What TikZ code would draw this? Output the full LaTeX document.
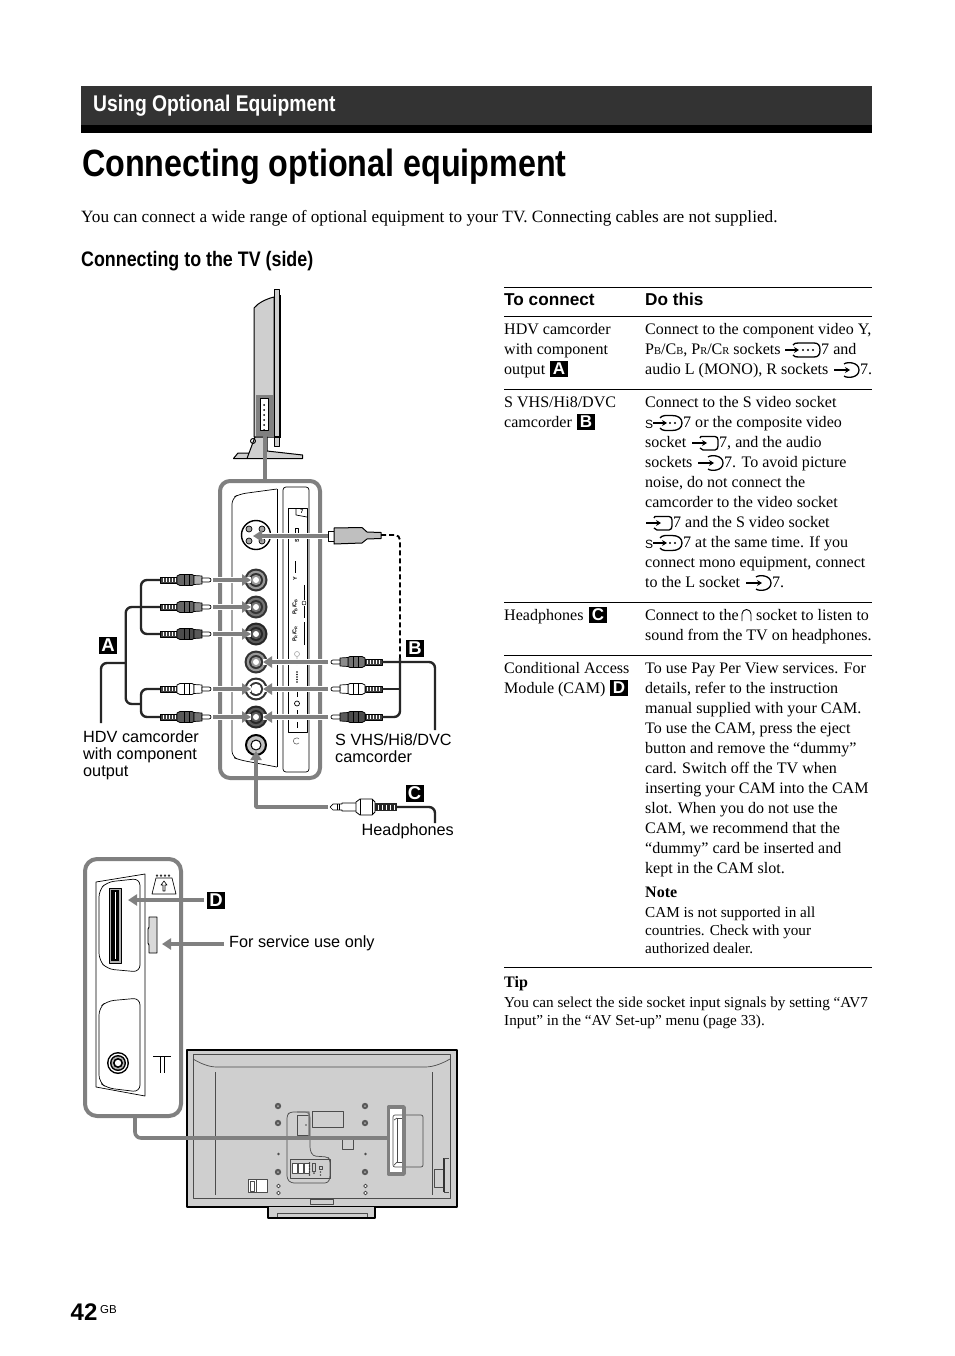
\documentclass[tikz,border=0pt]{standalone}
\usepackage{fontspec}
\usetikzlibrary{arrows.meta}
\setmainfont{Liberation Serif}
\newfontfamily\ar{Liberation Sans}
\newfontfamily\cond[FakeStretch=0.85]{Liberation Sans}
\newcounter{nn}
\definecolor{pg}{HTML}{808080}
\definecolor{tvg}{HTML}{CFCFCF}
\definecolor{hdr}{HTML}{333333}
\tikzset{
  rm/.style={anchor=base west,inner sep=0pt,font=\fontsize{16.05}{18}\selectfont\rmfamily},
  rmb/.style={rm,font=\fontsize{16}{18}\selectfont\rmfamily\bfseries},
  sm/.style={anchor=base west,inner sep=0pt,font=\fontsize{15.2}{16}\selectfont\rmfamily},
  intro/.style={anchor=base west,inner sep=0pt,font=\fontsize{17.25}{18}\selectfont\rmfamily},
  sa/.style={anchor=base west,inner sep=0pt,font=\fontsize{16.25}{18}\selectfont\ar},
  sab/.style={anchor=base west,inner sep=0pt,font=\fontsize{17.2}{18}\selectfont\ar\bfseries},
  badge/.style={fill=black,text=white,inner sep=0pt,minimum width=18pt,minimum height=17pt,font=\fontsize{18.5}{18}\selectfont\ar\bfseries},
  tbadge/.style={fill=black,text=white,inner sep=0pt,minimum width=18pt,minimum height=16pt,font=\fontsize{17}{16}\selectfont\ar\bfseries},
  tiny/.style={inner sep=0pt,rotate=90,font=\fontsize{5.5}{6}\selectfont\ar\bfseries},
  gar/.style={draw=pg,line width=3.4pt,-{Triangle[length=9pt,width=11pt]},preaction={draw=white,line width=5.5pt,-}},
  gline/.style={draw=pg,line width=3.6pt},
  cable/.style={draw=black!85,line width=2.4pt,rounded corners=6pt},
  thin/.style={draw=black,line width=.7pt},
  tvl/.style={draw=black!70,line width=.7pt},
  pics/plug/.style 2 args={code={
    \fill[black!75] (0,-3) rectangle (17,3);
    \foreach \k in {3,6,9,12,15}{\draw[white,line width=.9pt] (\k,-2.2) -- (\k,2.2);}
    \draw[black,line width=.7pt] (0,-3) rectangle (17,3);
    \draw[black,line width=.7pt,fill=#1] (17,-4) -- (20,-5.5) -- (32,-5.5) -- (34,-4.5) -- (34,4.5) -- (32,5.5) -- (20,5.5) -- (17,4) -- cycle;
    \draw[black,line width=.7pt] (24,-5.5) -- (24,5.5) (29,-5.5) -- (29,5.5);
    \draw[black,line width=.7pt,fill=#2] (34,-4.5) -- (42,-4) -- (42,4) -- (34,4.5) -- cycle;
    \draw[black,line width=.7pt,fill=white] (42,-2) -- (49,-2) arc (-90:90:2) -- (42,2) -- cycle;
  }},
  pics/rca/.style 2 args={code={
    \fill[#1] (0,0) circle (11.5);
    \fill[#2] (0,0) circle (9.3);
    \fill[#1] (0,0) circle (7);
    \fill[#2] (0,0) circle (5.2);
    \fill[white] (0,0) circle (3);
  }},
  pics/iaudio/.style={code={
    \draw[black,line width=1.1pt,-{Stealth[length=5pt,width=6pt]}] (0,0) -- (16,0);
    \draw[black,line width=1.3pt] (10,-6) .. controls (13,-8.5) and (25,-8) .. (25,0) .. controls (25,8) and (13,8.5) .. (10,6);
  }},
  pics/icomp/.style={code={
    \draw[black,line width=1.1pt,-{Stealth[length=5pt,width=6pt]}] (0,0) -- (14,0);
    \draw[black,line width=1.3pt] (8,-5) .. controls (9,-7) and (11,-7) .. (14,-7) -- (29,-7) .. controls (33,-7) and (35,-5) .. (35,0) .. controls (35,5) and (33,7) .. (29,7) -- (14,7) .. controls (11,7) and (9,7) .. (8,5);
    \foreach \k in {18,23,28}{\fill[black] (\k,0) circle (1.2);}
  }},
  pics/ivideo/.style={code={
    \draw[black,line width=1.1pt,-{Stealth[length=5pt,width=6pt]}] (0,0) -- (15,0);
    \draw[black,line width=1.3pt] (8,-5) -- (9,-6.5) -- (23,-6.5) .. controls (25,-6.5) and (26,-5) .. (26,-3) -- (26,3) .. controls (26,5) and (25,7) .. (23,7) -- (11,7) -- (8,5);
  }},
  pics/isv/.style={code={
    \node[inner sep=0pt,font=\fontsize{12}{12}\selectfont\ar] at (4,1) {S};
    \draw[black,line width=1.1pt,-{Stealth[length=5pt,width=6pt]}] (8,0) -- (22,0);
    \draw[black,line width=1.3pt] (15,-5) .. controls (17,-8) and (21,-7.5) .. (27,-7.5) .. controls (33,-7.5) and (37,-5) .. (37,0) .. controls (37,5) and (33,7.5) .. (27,7.5) .. controls (21,7.5) and (17,8) .. (15,5);
    \foreach \k in {25,30}{\fill[black] (\k,0) circle (1.2);}
  }},
  pics/screw/.style={code={
    \fill[black!65] (0,0) circle (3.2);
    \fill[black!30] (0,0) circle (1);
  }},
  pics/dmd/.style={code={
    \draw[black!75,line width=.7pt,fill=white] (0,-1.8) -- (1.8,0) -- (0,1.8) -- (-1.8,0) -- cycle;
  }}
}
\newcommand{\tx}[4][rm]{\stepcounter{nn}\node[#1] (t\thenn) at (#2,#3) {#4};}
\newcommand{\lns}[5][rm]{\foreach \t [count=\i from 0] in {#5} {\pgfmathsetmacro\yy{#3+#4*\i}\stepcounter{nn}\node[#1] (t\thenn) at (#2,\yy) {\t};}}
\newcommand{\smc}[1]{{\fontsize{10.5}{11}\selectfont #1}}
\begin{document}
\begin{tikzpicture}[x=1pt,y=-1pt,line join=round]
\useasboundingbox (0,0) rectangle (954,1356);
\fill[white] (0,0) rectangle (954,1356);
% ---------- header
\fill[hdr] (81,86) rectangle (872,125);
\fill[black] (81,125) rectangle (872,133);
\node[anchor=base west,inner sep=0pt,text=white,font=\fontsize{22.7}{24}\selectfont\cond\bfseries] (head) at (93,112) {Using Optional Equipment};
\node[anchor=base west,inner sep=0pt,font=\fontsize{38}{44}\selectfont\cond\bfseries] (title) at (82,176.5) {Connecting optional equipment};
\tx[intro]{81}{222.7}{You can connect a wide range of optional equipment to your TV. Connecting cables are not supplied.}
\node[anchor=base west,inner sep=0pt,font=\fontsize{21}{22}\selectfont\cond\bfseries] (subhead) at (81,266) {Connecting to the TV (side)};
% ---------- TV side view
\draw[black,line width=1pt,fill=tvg] (254,437) -- (254,308) .. controls (258,303) and (266,299) .. (274,297) -- (274,437) -- cycle;
\fill[pg] (256,395) rectangle (274,437);
\fill[white] (260,398) rectangle (268,430);
\foreach \yy in {405,410,...,430}{\fill[black] (264,\yy) circle (1);}
\draw[black,line width=.6pt] (260,398) rectangle (268,430);
\draw[black,line width=1pt,fill=tvg] (274,289) rectangle (279,446);
\draw[black,line width=1.2pt] (280.5,296) -- (280.5,437) (274,437) -- (280.5,437) (279,296) -- (280.5,296);
\draw[black,line width=1pt,fill=tvg] (247,458.5) -- (255,437) -- (267,437) -- (267,451) -- (302.5,455) -- (302.5,458.5) -- (233.5,458.5) -- (238,453) -- (249,453);
\draw[black,line width=.9pt] (253,441) circle (2.5);
\draw[black,line width=1.2pt] (233.5,458.5) -- (302.5,458.5);
\coordinate (sideS) at (265,432);
\coordinate (panelT) at (265,481);
\draw[gline] (sideS) -- (panelT);
% ---------- connection panel
\draw[draw=pg,line width=4pt,rounded corners=10pt] (220,481) rectangle (320,778);
\draw[thin,rounded corners=6pt] (277,489) -- (240,494) -- (232,498) -- (232,757) -- (240,760) -- (277,767);
\draw[thin] (277,489) -- (277,767);
\draw[thin,rounded corners=3pt] (283,772) -- (283,487) -- (309,487) -- (309,772) -- cycle;
\draw[thin] (288,508) rectangle (307,732);
\draw[thin] (296,508) -- (296,515) -- (307,517);
\node[tiny,rotate=-90] (seven) at (302,512) {7};
\node[tiny] (lS) at (297,541) {S};
\draw[black,line width=.5pt] (295,528) rectangle (298,533);
\node[tiny] (lY) at (295,579) {Y};
\draw[thin] (295,561) -- (295,573);
\node[tiny] (lPb) at (295,607) {P\textsubscript{B}/C\textsubscript{B}};
\draw[black,line width=.5pt] (304,603) circle (2);
\draw[thin] (304,585) -- (304,600) (304,606) -- (304,618);
\node[tiny] (lPr) at (295,634) {P\textsubscript{R}/C\textsubscript{R}};
\draw[thin] (304,622) -- (304,645);
\draw[black!35,line width=.6pt] (297,654) circle (2.5) (297,657) -- (297,665);
\foreach \yy in {672,674.5,...,682}{\fill[black] (297,\yy) circle (.8);}
\draw[thin] (297,688) -- (297,697) (297,710) -- (297,716) (297,722) -- (297,728);
\draw[thin] (297,703.5) circle (2.5);
\draw[black!60,line width=.6pt] (299,743) arc (40:320:3.2);
% sockets
\draw[black,line width=1.4pt,fill=white] (256,535) circle (14.5);
\foreach \a/\b in {249/529,262/529,249/541,262/541}{\draw[black,line width=.7pt,fill=black!35] (\a,\b) circle (3);}
\pic at (256,580) {rca={black!80}{black!40}};
\pic at (256,607) {rca={black!80}{black!55}};
\pic at (256,634) {rca={black!85}{black!65}};
\pic at (256,662) {rca={black!80}{black!40}};
\pic at (256,689) {rca={black!80}{white}};
\pic at (256,717) {rca={black!85}{black!65}};
\draw[black,line width=2pt,fill=black!25] (256,745) circle (10);
\fill[white] (256,745) circle (5);
\draw[black,line width=1pt] (256,745) circle (5);
% plugs
\pic at (160,580) {plug={black!60}{black!30}};
\pic at (160,607) {plug={black!60}{black!45}};
\pic at (160,634) {plug={black!70}{black!65}};
\pic at (160,689) {plug={white}{white}};
\pic at (160,717) {plug={black!65}{black!55}};
\pic[xscale=-1] at (382,662) {plug={black!55}{black!45}};
\pic[xscale=-1] at (382,689) {plug={white}{white}};
\pic[xscale=-1] at (382,717) {plug={black!70}{black!65}};
% arrows to sockets
\foreach \n/\yy in {1/580,2/607,3/634,5/689,6/717}{
  \coordinate (pl\n) at (213,\yy);
  \coordinate (sl\n) at (251,\yy);
  \draw[gar] (pl\n) -- (sl\n);
}
\foreach \n/\yy in {4/662,5/689,6/717}{
  \coordinate (pr\n) at (328,\yy);
  \coordinate (sr\n) at (263,\yy);
  \draw[gar] (pr\n) -- (sr\n);
}
\coordinate (svP) at (328,536);
\coordinate (svS) at (253,536);
\draw[gar] (svP) -- (svS);
\coordinate (hpP) at (328,807);
\coordinate (hpC) at (256,807);
\coordinate (hpS) at (256,751);
\draw[draw=pg,line width=3.4pt,-{Triangle[length=9pt,width=11pt]}] (hpP) -- (hpC) -- (hpS);
% S plug
\draw[black,line width=.9pt] (328,531) -- (334,531) -- (334,541) -- (328,541) -- cycle;
\draw[black,line width=1pt,fill=black!25] (334,528) -- (362,527.5) -- (367,532) -- (381,532.5) -- (381,538.5) -- (367,539) -- (362,543) -- (334,544) -- cycle;
% A cables
\coordinate (pa1) at (160,580); \coordinate (pa2) at (160,607); \coordinate (pa3) at (160,634);
\coordinate (pa4) at (160,689); \coordinate (pa5) at (160,717);
\coordinate (ja) at (141,704); \coordinate (aEnd) at (101,723);
\draw[cable] (pa1) -- (141,580) -- (141,634) -- (pa3);
\draw[cable] (pa4) -- (141,689) -- (141,717) -- (pa5);
\draw[cable] (pa2) -- (125.7,607) -- (125.7,704) -- (ja);
\draw[cable] (125.7,663) -- (101,663) -- (aEnd);
% B cables
\coordinate (pb1) at (382,662); \coordinate (pb2) at (382,689); \coordinate (pb3) at (382,717);
\coordinate (bEnd) at (435,730);
\draw[cable] (pb1) -- (435,662) -- (bEnd);
\draw[cable] (pb3) -- (400,717) -- (400,658);
\draw[cable] (pb2) -- (400,689);
\draw[black,line width=1.9pt,dash pattern=on 5pt off 3pt,rounded corners=5pt] (381,535) -- (400,535) -- (400,658);
% C cable
\draw[black,line width=.7pt] (330,807) -- (333,804) -- (342,804) -- (342,803) -- (357,803);
\draw[black,line width=.7pt] (330,807) -- (333,810) -- (342,810) -- (342,811) -- (357,811);
\draw[black,line width=.7pt] (337,804) -- (337,810) (339,804) -- (339,810);
\draw[black,line width=.8pt,fill=white] (356,802) -- (360,799) -- (372,799) -- (375,802) -- (375,812) -- (372,815) -- (360,815) -- (356,812) -- cycle;
\draw[black,line width=.7pt] (360,799) -- (360,815) (372,799) -- (372,815);
\fill[black!85] (375,803) rectangle (397,811);
\foreach \k in {378,382,386,390,394}{\draw[white,line width=.8pt] (\k,804.5) -- (\k,809.5);}
\coordinate (pc) at (397,807); \coordinate (cEnd) at (435,823);
\draw[cable] (pc) -- (435,807) -- (cEnd);
% badges and labels
\node[badge] (bA) at (108,645) {A};
\node[badge] (bB) at (415,648) {B};
\node[badge] (bC) at (414.5,793) {C};
\node[badge] (bD) at (216,900.5) {D};
\lns[sa]{83}{742}{17}{HDV camcorder,with component,output}
\lns[sa]{335}{745}{17}{S VHS/Hi8/DVC,camcorder}
\tx[sa]{361.5}{835}{Headphones}
\tx[sa]{229}{947}{For service use only}
% ---------- lower panel
\draw[draw=pg,line width=4pt,rounded corners=12pt] (85,859) rectangle (181,1116);
\draw[thin] (96,882) -- (145,874) -- (145,1096) -- (96,1087) -- cycle;
\draw[thin,rounded corners=7pt] (140,878.5) -- (107,882) -- (99,890) -- (99,960) -- (107,969) -- (140,972) -- cycle;
\draw[thin,rounded corners=7pt] (140,998) -- (107,1001) -- (99,1008) -- (99,1082) -- (107,1088) -- (140,1092) -- cycle;
\draw[black,line width=.7pt,fill=black!30] (109,888) rectangle (121,963);
\fill[black] (111,890) rectangle (119,961);
\fill[white] (115,892) rectangle (116.2,959);
\fill[black] (118,1063) circle (11);
\fill[white] (118,1063) circle (9.5);
\fill[black] (118,1063) circle (8);
\fill[black!30] (118,1063) circle (6.5);
\fill[black] (118,1063) circle (5);
\fill[white] (118,1063) circle (3.2);
\draw[thin] (153,1056) -- (171,1056);
\draw[thin] (160,1056) -- (160,1073) (164,1056) -- (164,1073);
\draw[thin] (152,894) -- (176,894) -- (172,878) -- (156,878) -- cycle;
\foreach \k in {157,161,165,169}{\draw[black,line width=.5pt] (\k,875.5) circle (.9);}
\draw[black,line width=.6pt] (163,891) -- (163,885) -- (161,885) -- (164,881) -- (167,885) -- (165,885) -- (165,891) -- cycle;
\draw[black,line width=.9pt,fill=black!15] (149,917) -- (157,917) -- (157,953) -- (149,953) -- (149,945) -- (148,943) -- (148,929) -- (149,927) -- cycle;
\coordinate (dS) at (204,900); \coordinate (dE) at (128,900);
\coordinate (fS) at (224,944); \coordinate (fE) at (162,944);
\draw[draw=pg,line width=3.4pt,-{Triangle[length=9pt,width=11pt]}] (dS) -- (dE);
\draw[draw=pg,line width=3.4pt,-{Triangle[length=9pt,width=11pt]}] (fS) -- (fE);
% ---------- TV rear
\draw[black,line width=2pt,fill=tvg] (187,1049.5) rectangle (456.5,1206.5);
\draw[black,line width=2pt,fill=tvg] (268,1206.5) -- (268,1217.5) -- (375,1217.5) -- (375,1206.5);
\draw[tvl] (277,1217) -- (277,1213) -- (367,1213) -- (367,1217);
\draw[tvl] (310,1199.5) rectangle (333,1204.5);
\draw[tvl] (193,1054.5) rectangle (450,1198);
\draw[tvl] (193,1059) .. controls (200,1063) and (208,1067) .. (217,1067) -- (425,1067) .. controls (434,1067) and (443,1063) .. (450,1059);
\draw[tvl] (215,1072) -- (215,1195) (432,1072) -- (432,1195);
\foreach \xx in {278,365}{
  \pic at (\xx,1106) {screw};
  \pic at (\xx,1123) {screw};
  \pic at (\xx,1172) {screw};
  \fill[black!70] (\xx+.5,1154) circle (1.3);
  \pic at (\xx+.5,1186) {dmd};
  \pic at (\xx+.5,1193) {dmd};
}
\draw[tvl,rounded corners=3pt] (287,1115) -- (290,1112) -- (308,1112) -- (310,1115) -- (310,1150) -- (313,1156) -- (328,1157) -- (330,1160) -- (330,1178) -- (328,1183) -- (291,1183) -- (287,1179) -- cycle;
\draw[tvl] (312,1111) rectangle (343,1127);
\draw[tvl] (297,1115) rectangle (309,1135);
\fill[black!70] (306,1125) circle (.9);
\draw[tvl] (342,1138) rectangle (353,1149);
\draw[tvl] (290,1159) rectangle (330,1178);
\draw[tvl,fill=white] (292,1163) rectangle (297,1173);
\draw[tvl,fill=white] (298,1163) rectangle (303,1173);
\draw[tvl,fill=white] (304,1163) rectangle (309,1173);
\foreach \yy in {1163,1166,...,1175}{\fill[black!80] (309.5,\yy) circle (.8);}
\draw[tvl] (312,1163) rectangle (315,1171);
\fill[black!70] (314,1173) circle (1);
\draw[tvl] (319,1166) rectangle (322,1169);
\fill[black!70] (320.5,1172) circle (.9) (320.5,1175) circle (.9);
\draw[tvl,fill=white] (248,1179) rectangle (267,1192);
\draw[tvl] (250,1181) rectangle (254,1191) (256,1180) -- (256,1192);
\draw[tvl] (434,1169) -- (443,1169) -- (443,1187) -- (434,1187) -- cycle;
\draw[black!80,line width=1.4pt] (444,1158) -- (444,1192);
\draw[tvl] (444,1158) -- (449,1158) (444,1192) -- (449,1192);
\fill[white] (387,1106) rectangle (405,1175);
\draw[tvl,rounded corners=2pt] (423,1115) rectangle (393,1167);
\draw[tvl] (397,1118) rectangle (402,1162);
\draw[tvl,rounded corners=1pt] (394,1120) -- (397,1118) (394,1165) -- (397,1162);
\coordinate (lowB) at (135,1118);
\coordinate (camR) at (387,1138);
\draw[gline,rounded corners=6pt] (lowB) -- (135,1138) -- (camR);
\draw[draw=pg,line width=3.6pt] (388.5,1107) rectangle (404,1174);
\draw[draw=pg,line width=1.2pt,draw opacity=.7] (297,1112) -- (309,1112) -- (309,1138);
% ---------- table
\foreach \yy/\w in {287/.9,316.5/1,389.5/1,602.5/1,655.5/1,967.5/1}{
  \draw[black,line width=\w pt] (504,\yy) -- (872,\yy);
}
\tx[sab]{504}{305}{To connect}
\tx[sab]{645}{305}{Do this}
\lns{504}{334}{20}{HDV camcorder,with component,output}
\node[tbadge] (tA) at (559,369) {A};
\tx{645}{334}{Connect to the component video Y,}
\tx{645}{354}{P\smc{B}/C\smc{B}, P\smc{R}/C\smc{R} sockets}
\pic at (785,350) {icomp};
\tx{821}{354}{7 and}
\tx{645}{374}{audio L (MONO), R sockets}
\pic at (834,370) {iaudio};
\tx{860}{374}{7.}
\lns{504}{407}{20}{S VHS/Hi8/DVC,camcorder}
\node[tbadge] (tB) at (586,422) {B};
\tx{645}{407}{Connect to the S video socket}
\pic at (645,423) {isv};
\tx{683}{427}{7 or the composite video}
\tx{645}{447}{socket}
\pic at (692,443) {ivideo};
\tx{719}{447}{7, and the audio}
\tx{645}{467}{sockets}
\pic at (698,463) {iaudio};
\tx{724}{467}{7. To avoid picture}
\lns{645}{487}{20}{{noise, do not connect the},camcorder to the video socket}
\pic at (646,523) {ivideo};
\tx{673}{527}{7 and the S video socket}
\pic at (645,543) {isv};
\tx{683}{547}{7 at the same time. If you}
\tx{645}{567}{connect mono equipment, connect}
\tx{645}{587}{to the L socket}
\pic at (746,583) {iaudio};
\tx{772}{587}{7.}
\tx{504}{620}{Headphones}
\node[tbadge] (tC) at (598,614.5) {C};
\tx{645}{620}{Connect to the}
\draw[black,line width=.9pt] (742,621) -- (742,614) arc (180:360:4.5) -- (751,621);
\tx{756}{620}{socket to listen to}
\tx{645}{640}{sound from the TV on headphones.}
\lns{504}{673}{20}{Conditional Access,Module (CAM)}
\node[tbadge] (tD) at (619,688) {D};
\lns{645}{673}{20}{To use Pay Per View services. For,{details, refer to the instruction},manual supplied with your CAM.,{To use the CAM, press the eject},button and remove the “dummy”,card. Switch off the TV when,inserting your CAM into the CAM,slot. When you do not use the,{CAM, we recommend that the},“dummy” card be inserted and,kept in the CAM slot.}
\tx[rmb]{645}{897}{Note}
\lns[sm]{645}{917}{18}{CAM is not supported in all,countries. Check with your,authorized dealer.}
\tx[rmb]{504}{987}{Tip}
\lns[sm]{504}{1007}{18}{You can select the side socket input signals by setting “AV7,Input” in the “AV Set-up” menu (page 33).}
% ---------- page number
\node[anchor=base west,inner sep=0pt,font=\fontsize{24}{24}\selectfont\ar\bfseries] (pgn) at (70.5,1320) {42};
\node[anchor=base west,inner sep=0pt,font=\fontsize{11.5}{11}\selectfont\ar] (gb) at (100,1313) {GB};
\end{tikzpicture}
\end{document}
